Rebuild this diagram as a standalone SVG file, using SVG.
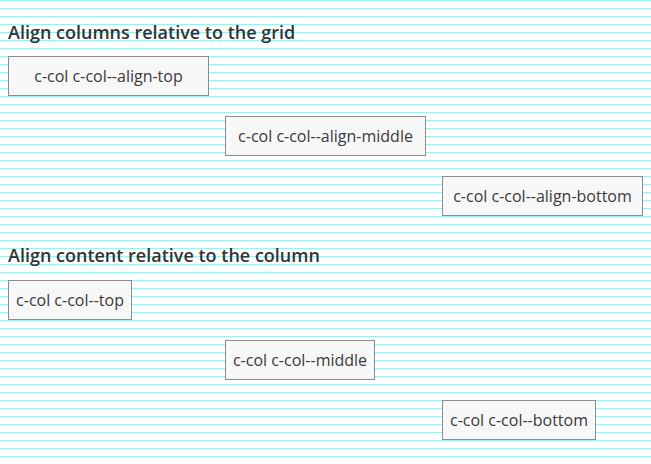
<svg xmlns="http://www.w3.org/2000/svg" width="651" height="464" viewBox="0 0 651 464">
<defs>
<pattern id="grid" x="0" y="0" width="651" height="8" patternUnits="userSpaceOnUse">
<rect x="0" y="0" width="651" height="1.2" fill="#7affff"/>
</pattern>
<style>
.h{font-family:"Open Sans","Liberation Sans",sans-serif;font-weight:600;font-size:18px;fill:#333}
.b rect{fill:#f7f7f7;stroke:#8c8c8c;stroke-width:1}
.b text{font-family:"Open Sans","Liberation Sans",sans-serif;font-size:16px;fill:#3a3a3a;text-anchor:middle}
</style>
</defs>
<rect width="651" height="464" fill="#fff"/>
<rect width="651" height="464" fill="url(#grid)"/>
<text class="h" x="8" y="39">Align columns relative to the grid</text>
<g id="n1" class="b"><rect x="8.5" y="56.5" width="200" height="39"/><text x="108.5" y="82">c-col c-col--align-top</text></g>
<g id="n2" class="b"><rect x="225.5" y="116.5" width="200" height="39"/><text x="325.5" y="142">c-col c-col--align-middle</text></g>
<g id="n3" class="b"><rect x="442.5" y="176.5" width="200" height="39"/><text x="542.5" y="202">c-col c-col--align-bottom</text></g>
<text class="h" x="8" y="262">Align content relative to the column</text>
<g id="n4" class="b"><rect x="8.5" y="280.5" width="123" height="39"/><text x="70" y="306">c-col c-col--top</text></g>
<g id="n5" class="b"><rect x="225.5" y="340.5" width="149" height="39"/><text x="300" y="366">c-col c-col--middle</text></g>
<g id="n6" class="b"><rect x="442.5" y="400.5" width="153" height="39"/><text x="519" y="426">c-col c-col--bottom</text></g>
<g id="connectors"/>
</svg>
